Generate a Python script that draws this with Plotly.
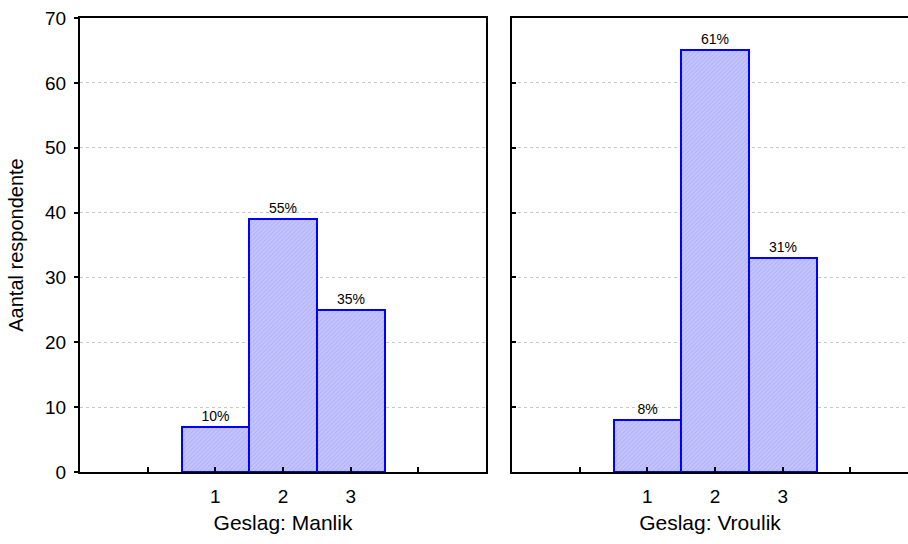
import plotly.graph_objects as go

categories = [1, 2, 3]
manlik_counts = [7, 39, 25]
vroulik_counts = [8, 65, 33]
manlik_pct = ["10%", "55%", "35%"]
vroulik_pct = ["8%", "61%", "31%"]
x_tickvals = [0, 1, 2, 3, 4]
x_ticktext = ["", "1", "2", "3", ""]
panel_titles = ["Geslag: Manlik", "Geslag: Vroulik"]
y_title = "Aantal respondente"

FONT = "Liberation Sans, Arial, sans-serif"

def bar(x, y, txt, xa, ya):
    return go.Bar(
        x=x, y=y, text=txt, textposition="outside", cliponaxis=False,
        textfont=dict(family=FONT, size=14, color="black"),
        width=1,
        marker=dict(color="#c0c0ff",
                    line=dict(color="#0000ff", width=2),
                    pattern=dict(shape="/", fgcolor="#9898e8", bgcolor="#c4c4ff",
                                 size=3, solidity=0.3)),
        xaxis=xa, yaxis=ya, showlegend=False, hoverinfo="skip")

fig = go.Figure()
fig.add_trace(bar(categories, manlik_counts, manlik_pct, "x", "y"))
fig.add_trace(bar(categories, vroulik_counts, vroulik_pct, "x2", "y2"))

L, R = 80, 908
W = R - L
d1 = [0, (486 - L) / W]
d2 = [(512 - L) / W, 1]
unit = (486 - 80) / 6.0
r2_end = -1 + (908 - 512) / unit

xcommon = dict(tickmode="array", tickvals=x_tickvals, ticktext=x_ticktext,
               ticks="inside", ticklen=5, tickwidth=1.5, tickcolor="black",
               ticklabelstandoff=6,
               showline=True, linecolor="black", linewidth=2, showgrid=False,
               zeroline=False, tickfont=dict(family=FONT, size=19, color="black"),
               title_font=dict(family=FONT, size=21, color="black"), title_standoff=10)
ycommon = dict(range=[0, 70], dtick=10, showline=True, linecolor="black", linewidth=2,
               showgrid=True, gridcolor="#c8c8c8", griddash="dot", gridwidth=1,
               zeroline=False, ticklen=4, tickwidth=1.5, tickcolor="black",
               tickfont=dict(family=FONT, size=19, color="black"))

fig.update_layout(
    width=908, height=544,
    margin=dict(l=L, r=0, t=18, b=72),
    plot_bgcolor="white", paper_bgcolor="white",
    bargap=0,
    xaxis=dict(domain=d1, range=[-1, 5], mirror=True, anchor="y",
               title_text=panel_titles[0], **xcommon),
    xaxis2=dict(domain=d2, range=[-1, r2_end], mirror=True, anchor="y2",
                title_text=panel_titles[1], **xcommon),
    yaxis=dict(domain=[0, 1], anchor="x", mirror=True, ticks="outside",
               ticklabelstandoff=4,
               title_text=y_title, title_standoff=16,
               title_font=dict(family=FONT, size=20, color="black"), **ycommon),
    yaxis2=dict(domain=[0, 1], anchor="x2", mirror=False, ticks="inside",
                showticklabels=False, **ycommon),
)

fig.write_html("out.html", config={"displayModeBar": False},
               post_script="document.body.style.margin='0';document.body.style.overflow='hidden';")
